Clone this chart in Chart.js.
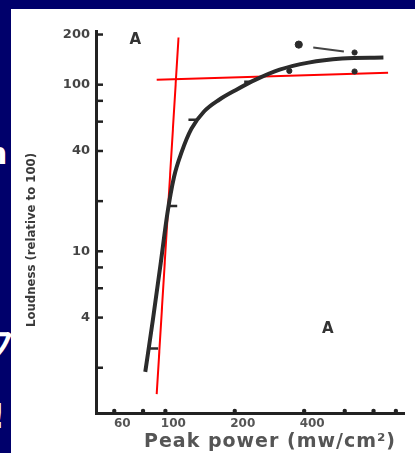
<!DOCTYPE html>
<html>
<head>
<meta charset="utf-8">
<script src="https://cdn.jsdelivr.net/npm/chart.js@4.4.0/dist/chart.umd.min.js"></script>
<style>
html, body { margin: 0; padding: 0; width: 415px; height: 453px; overflow: hidden; background: #00006b; position: relative; }
#panel { position: absolute; left: 11px; top: 9px; width: 404px; height: 444px; background: #fff; }
.frag { position: absolute; color: #fff; font-family: "DejaVu Sans"; font-weight: bold; }
</style>
</head>
<body>
<div class="frag" style="left:-14px;top:136px;font-size:30px">n</div>
<div class="frag" style="left:-24px;top:318px;font-size:40px">フ</div>
<div class="frag" style="left:-10px;top:396px;font-size:34px">!</div>
<div id="panel"><canvas id="loudness" width="404" height="444"></canvas></div>
<script>
// fitted curve (peak power mw/cm2 -> loudness)
var curvePower = [81.8, 88.3, 95.3, 101.9, 109, 117.7, 129.6, 146.8, 171.1, 203.4, 246.5, 313.2, 417.7, 584.3, 883];
var curveLoudness = [1.89, 3.9, 8.35, 16.7, 27.9, 39.5, 54.3, 68.8, 81.2, 93.3, 107.2, 123.1, 135.7, 143.4, 145.4];

// measured points drawn as short dashes
var dashPower = [85.8, 103.9, 125.9, 219.7];
var dashLoudness = [2.61, 18.7, 61.5, 104];

// measured points drawn as dots
var dotPower = [345, 662, 662];
var dotLoudness = [121, 120, 156];
var bigDotPower = [379];
var bigDotLoudness = [174];
var linkPower = [438, 595];
var linkLoudness = [167, 158];

// red lines drawn over the figure
var steepPower = [114, 91.7];
var steepLoudness = [192, 1.39];
var flatPower = [91.7, 925];
var flatLoudness = [107, 118];

var yTicks = [2, 4, 6, 8, 10, 20, 40, 60, 80, 100, 200];
var yLabels = [200, 100, 40, 10, 4];
var xTicks = [60, 80, 100, 200, 400, 600, 800, 1000];
var xLabels = [60, 100, 200, 400];

var letters = [
    { text: 'A', x: 74, y: 186 },
    { text: 'A', x: 506, y: 3.4 }
];

function toPoints(xs, ys) {
    return xs.map(function(x, i) { return { x: x, y: ys[i] }; });
}

var tickMarks = {
    id: 'tickMarks',
    afterDatasetsDraw: function(chart) {
        var ctx = chart.ctx;
        var xs = chart.scales.x, ys = chart.scales.y;
        var area = chart.chartArea;
        ctx.save();
        ctx.strokeStyle = '#222';
        ctx.lineWidth = 2.5;
        yTicks.forEach(function(v) {
            var py = ys.getPixelForValue(v);
            ctx.beginPath();
            ctx.moveTo(area.left, py);
            ctx.lineTo(area.left + 7, py);
            ctx.stroke();
        });
        ctx.fillStyle = '#222';
        xTicks.forEach(function(v) {
            var px = xs.getPixelForValue(v);
            ctx.beginPath();
            ctx.arc(px, area.bottom - 2, 2.2, 0, Math.PI * 2);
            ctx.fill();
        });
        ctx.fillStyle = '#333';
        ctx.font = 'bold 15px "DejaVu Sans"';
        ctx.textAlign = 'center';
        ctx.textBaseline = 'middle';
        letters.forEach(function(l) {
            ctx.fillText(l.text, xs.getPixelForValue(l.x), ys.getPixelForValue(l.y));
        });
        // axis titles
        ctx.fillStyle = '#555';
        ctx.font = 'bold 19px "DejaVu Sans"';
        ctx.letterSpacing = '1px';
        ctx.fillText('Peak power (mw/cm\u00b2)', 259, 433);
        ctx.letterSpacing = '0px';
        ctx.save();
        ctx.translate(21, 231);
        ctx.rotate(-Math.PI / 2);
        ctx.fillStyle = '#3a3a3a';
        ctx.font = 'bold 13px "DejaVu Sans Condensed", "DejaVu Sans"';
        ctx.fillText('Loudness (relative to 100)', 0, 0);
        ctx.restore();
        ctx.restore();
    }
};

var ctx = document.getElementById('loudness');
var loudnessChart = new Chart(ctx, {
    type: 'scatter',
    data: {
        datasets: [{
            data: toPoints(curvePower, curveLoudness),
            showLine: true,
            borderColor: '#2b2b2b',
            borderWidth: 4,
            pointRadius: 0,
            cubicInterpolationMode: 'monotone'
        }, {
            data: toPoints(dashPower, dashLoudness),
            pointStyle: 'dash',
            pointRadius: 8,
            borderColor: '#2b2b2b',
            borderWidth: 2.5
        }, {
            data: toPoints(dotPower, dotLoudness),
            pointRadius: 2.6,
            backgroundColor: '#2b2b2b',
            borderColor: '#2b2b2b'
        }, {
            data: toPoints(bigDotPower, bigDotLoudness),
            pointRadius: 3.6,
            backgroundColor: '#2b2b2b',
            borderColor: '#2b2b2b'
        }, {
            data: toPoints(linkPower, linkLoudness),
            showLine: true,
            borderColor: '#444',
            borderWidth: 2,
            pointRadius: 0
        }, {
            data: toPoints(steepPower, steepLoudness),
            showLine: true,
            borderColor: '#ff0000',
            borderWidth: 2,
            pointRadius: 0
        }, {
            data: toPoints(flatPower, flatLoudness),
            showLine: true,
            borderColor: '#ff0000',
            borderWidth: 2,
            pointRadius: 0
        }]
    },
    options: {
        responsive: false,
        animation: false,
        layout: { padding: { top: 22, left: 0, right: 0, bottom: 0 } },
        plugins: {
            legend: { display: false },
            tooltip: { enabled: false }
        },
        scales: {
            x: {
                type: 'logarithmic',
                min: 50,
                max: 1090,
                afterFit: function(scale) { scale.height = 40; },
                afterBuildTicks: function(scale) {
                    scale.ticks = xTicks.map(function(v) { return { value: v }; });
                },
                grid: { display: false, drawTicks: false },
                border: { display: true, color: '#222', width: 3 },
                ticks: {
                    autoSkip: false,
                    maxRotation: 0,
                    padding: 4,
                    labelOffset: 8,
                    color: '#555',
                    font: { family: 'DejaVu Sans', weight: 'bold', size: 12 },
                    callback: function(v) { return xLabels.indexOf(v) >= 0 ? String(v) : ''; }
                }
            },
            y: {
                type: 'logarithmic',
                min: 1.07,
                max: 210,
                afterFit: function(scale) { scale.width = 85; },
                afterBuildTicks: function(scale) {
                    scale.ticks = yTicks.map(function(v) { return { value: v }; });
                },
                grid: { display: false, drawTicks: false },
                border: { display: true, color: '#222', width: 3 },
                ticks: {
                    autoSkip: false,
                    padding: 6,
                    color: '#444',
                    font: { family: 'DejaVu Sans', weight: 'bold', size: 13 },
                    callback: function(v) { return yLabels.indexOf(v) >= 0 ? String(v) : ''; }
                }
            }
        }
    },
    plugins: [tickMarks]
});
</script>
</body>
</html>
